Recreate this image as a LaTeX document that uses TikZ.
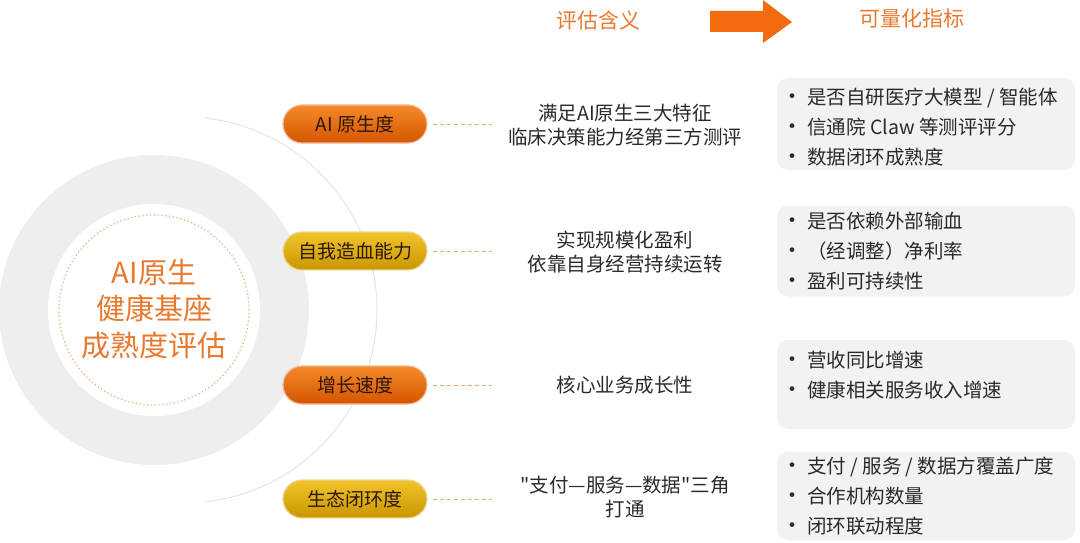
\documentclass[tikz,border=0pt]{standalone}
\usepackage{fontspec}
\setmainfont[Ligatures=TeXOff]{Noto Sans CJK SC}
\usetikzlibrary{shapes.misc}
\definecolor{ringgray}{HTML}{EEEEEE}
\definecolor{arcgray}{HTML}{E4E4E4}
\definecolor{orangeT}{HTML}{E8792E}
\definecolor{arrowor}{HTML}{F26B0F}
\definecolor{pillOtop}{HTML}{F58A2A}
\definecolor{pillObot}{HTML}{D45500}
\definecolor{pillGtop}{HTML}{F2C42A}
\definecolor{pillGbot}{HTML}{C99600}
\definecolor{dashor}{HTML}{F0A870}
\definecolor{boxgray}{HTML}{F2F2F2}
\definecolor{txt}{HTML}{2A2A2A}
\definecolor{pilltxt}{HTML}{2B1808}
\tikzset{
  pill/.style={rounded rectangle, minimum width=144pt, minimum height=38pt, inner sep=0pt,
    draw=#1!40!white, line width=1.2pt, text=pilltxt, font=\fontsize{19}{22}\selectfont},
  pillO/.style={pill=pillObot, top color=pillOtop, bottom color=pillObot},
  pillG/.style={pill=pillGbot, top color=pillGtop, bottom color=pillGbot},
  conn/.style={dashor, dash pattern=on 4pt off 3pt, line width=0.9pt},
  midtext/.style={align=center, text=txt, font=\fontsize{19.5}{24}\selectfont},
  head/.style={text=orangeT, font=\fontsize{21}{24}\selectfont},
  listbox/.style={fill=boxgray, rounded corners=11pt, minimum width=298pt, inner sep=0pt},
  listtext/.style={align=left, text=txt, anchor=north west, inner sep=0pt, font=\fontsize{19.5}{30}\selectfont},
}
\newcommand{\bul}{\makebox[26pt][l]{\fontsize{22}{22}\selectfont •}}
\begin{document}
\begin{tikzpicture}[x=1pt,y=-1pt]
\useasboundingbox (0,0) rectangle (1080,543);
\fill[white] (0,0) rectangle (1080,543);
% thin arc
\begin{scope}
\clip (205,0) rectangle (1080,543);
\draw[arcgray, line width=1pt] (184,310) circle[radius=193pt];
\end{scope}
% ring
\fill[ringgray] (154,310) circle[radius=155pt];
\fill[white] (154,310) circle[radius=106pt];
\draw[dashor, line width=1.2pt, dash pattern=on 1.2pt off 2.6pt] (154,310) circle[radius=95pt];
\node[text=orangeT, align=center, font=\fontsize{29}{36.5}\selectfont] (c) at (154,309) {AI原生\\健康基座\\成熟度评估};
% header
\node[head] (h1) at (598,20) {评估含义};
\node[head] (h2) at (912,19) {可量化指标};
\fill[arrowor] (710,11) -- (763,11) -- (763,0) -- (792,22) -- (763,43) -- (763,32) -- (710,32) -- cycle;
% pills
\node[pillO] (p1) at (355,124) {AI 原生度};
\node[pillG] (p2) at (355,251) {自我造血能力};
\node[pillO] (p3) at (355,385) {增长速度};
\node[pillG] (p4) at (355,499) {生态闭环度};
\coordinate (d1) at (492,124);
\coordinate (d2) at (492,251);
\coordinate (d3) at (492,385);
\coordinate (d4) at (492,499);
\draw[conn] ([xshift=5pt]p1.east) -- (d1);
\draw[conn] ([xshift=5pt]p2.east) -- (d2);
\draw[conn] ([xshift=5pt]p3.east) -- (d3);
\draw[conn] ([xshift=5pt]p4.east) -- (d4);
% middle texts
\node[midtext] (m1) at (625,125) {满足AI原生三大特征\\临床决策能力经第三方测评};
\node[midtext] (m2) at (625,252) {实现规模化盈利\\依靠自身经营持续运转};
\node[midtext] (m3) at (625,385) {核心业务成长性};
\node[midtext] (m4) at (625,497) {"支付—服务—数据"三角\\打通};
% boxes
\node[listbox, minimum height=92pt] (b1) at (926,124) {};
\node[listbox, minimum height=91pt] (b2) at (926,251) {};
\node[listbox, minimum height=89pt] (b3) at (926,384.5) {};
\node[listbox, minimum height=89pt] (b4) at (926,496) {};
\node[listtext] (l1) at (781,88) {\bul 是否自研医疗大模型 / 智能体\\\bul 信通院 Claw 等测评评分\\\bul 数据闭环成熟度};
\node[listtext] (l2) at (781,212) {\bul 是否依赖外部输血\\\bul （经调整）净利率\\\bul 盈利可持续性};
\node[listtext] (l3) at (781,351) {\bul 营收同比增速\\\bul 健康相关服务收入增速};
\node[listtext] (l4) at (781,457) {\bul 支付 / 服务 / 数据方覆盖广度\\\bul 合作机构数量\\\bul 闭环联动程度};
\end{tikzpicture}
\end{document}
